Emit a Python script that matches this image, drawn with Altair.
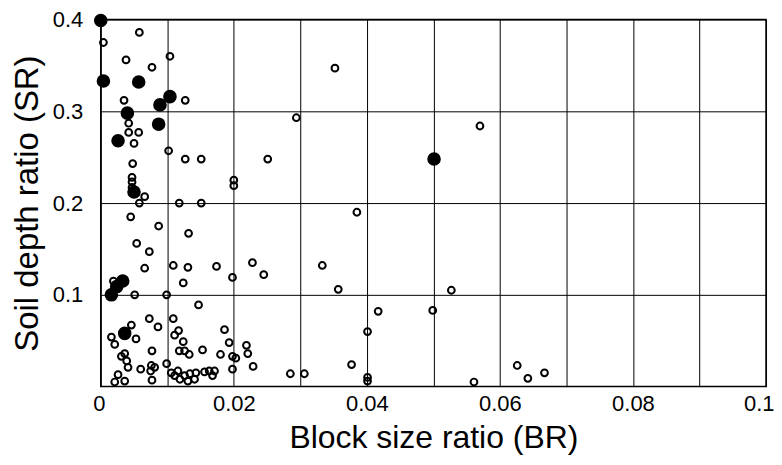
import altair as alt
import pandas as pd

# Open circles (Block size ratio BR, Soil depth ratio SR)
open_br = [0.0058, 0.0004, 0.0038, 0.0077, 0.0104, 0.0035, 0.0127, 0.0042, 0.0042, 0.0057,
           0.0050, 0.0102, 0.0127, 0.0151, 0.0251, 0.0048, 0.0047, 0.0047, 0.0047, 0.0066,
           0.0200, 0.0200, 0.0352, 0.0294, 0.0570,
           0.0058, 0.0118, 0.0151, 0.0045, 0.0087, 0.0132, 0.0054, 0.0073, 0.0066, 0.0109,
           0.0131, 0.0174, 0.0228, 0.0245, 0.0198, 0.0124, 0.0019, 0.0051, 0.0099, 0.0147,
           0.0385, 0.0333, 0.0357, 0.0527, 0.0417, 0.0499, 0.0401,
           0.0073, 0.0109, 0.0046, 0.0086, 0.0117, 0.0111, 0.0016, 0.0053, 0.0124, 0.0021,
           0.0186, 0.0193, 0.0219, 0.0221, 0.0153, 0.0118, 0.0126, 0.0133, 0.0077, 0.0036,
           0.0031, 0.0039, 0.0041, 0.0180, 0.0198, 0.0203, 0.0229, 0.0198, 0.0060, 0.0076,
           0.0081, 0.0075, 0.0077, 0.0099, 0.0106, 0.0116, 0.0111, 0.0119, 0.0126, 0.0131,
           0.0134, 0.0141, 0.0143, 0.0156, 0.0163, 0.0171, 0.0168, 0.0026, 0.0021, 0.0036,
           0.0285, 0.0306, 0.0377, 0.0401, 0.0401, 0.0561, 0.0626, 0.0642, 0.0667]
open_sr = [0.386, 0.375, 0.356, 0.348, 0.360, 0.312, 0.312, 0.287, 0.277, 0.277,
           0.265, 0.257, 0.248, 0.248, 0.248, 0.243, 0.228, 0.223, 0.217, 0.207,
           0.225, 0.219, 0.347, 0.293, 0.284,
           0.200, 0.200, 0.200, 0.185, 0.175, 0.167, 0.156, 0.147, 0.129, 0.132,
           0.130, 0.131, 0.135, 0.122, 0.119, 0.113, 0.115, 0.100, 0.100, 0.089,
           0.190, 0.132, 0.106, 0.105, 0.082, 0.083, 0.060,
           0.074, 0.074, 0.067, 0.065, 0.061, 0.056, 0.054, 0.052, 0.049, 0.046,
           0.062, 0.048, 0.045, 0.036, 0.040, 0.039, 0.039, 0.035, 0.039, 0.036,
           0.033, 0.028, 0.021, 0.035, 0.033, 0.031, 0.022, 0.019, 0.019, 0.023,
           0.021, 0.017, 0.007, 0.025, 0.015, 0.017, 0.012, 0.008, 0.012, 0.006,
           0.014, 0.008, 0.015, 0.016, 0.017, 0.017, 0.012, 0.013, 0.005, 0.006,
           0.014, 0.014, 0.024, 0.010, 0.006, 0.005, 0.023, 0.009, 0.015]

# Filled circles
filled_br = [0.0000, 0.0004, 0.0057, 0.0104, 0.0089, 0.0040, 0.0087, 0.0026, 0.0050,
             0.0033, 0.0024, 0.0016, 0.0036, 0.0501]
filled_sr = [0.399, 0.333, 0.332, 0.316, 0.307, 0.298, 0.286, 0.268, 0.212,
             0.115, 0.109, 0.100, 0.058, 0.248]

x_grid = [0.0, 0.01, 0.02, 0.03, 0.04, 0.05, 0.06, 0.07, 0.08, 0.09, 0.1]
x_labels = ["0", "0.02", "0.04", "0.06", "0.08", "0.1"]
y_grid = [0.1, 0.2, 0.3, 0.4]

df_open = pd.DataFrame({"BR": open_br, "SR": open_sr})
df_filled = pd.DataFrame({"BR": filled_br, "SR": filled_sr})

label_list = "[" + ",".join("'" + s + "'" for s in x_labels) + "]"

x_enc = alt.X("BR:Q", scale=alt.Scale(domain=[0, 0.1], nice=False, zero=True),
              axis=alt.Axis(title="Block size ratio (BR)", values=x_grid, format="~g",
                            labelExpr=f"indexof({label_list}, datum.label) >= 0 ? datum.label : ''",
                            labelFlush=True, labelFlushOffset=8,
                            labelOverlap=False, ticks=False,
                            labelPadding=7, titlePadding=8,
                            labelFontSize=22, titleFontSize=32))
y_enc = alt.Y("SR:Q", scale=alt.Scale(domain=[0, 0.4], nice=False, zero=True),
              axis=alt.Axis(title="Soil depth ratio (SR)", values=y_grid, format="~g",
                            labelFlush=False, labelOverlap=False, ticks=False,
                            labelPadding=18, titlePadding=8,
                            labelFontSize=22, titleFontSize=33))

open_layer = alt.Chart(df_open).mark_point(shape="circle", filled=False, size=46,
                                            strokeWidth=2, color="black", opacity=1).encode(x=x_enc, y=y_enc)
filled_layer = alt.Chart(df_filled).mark_circle(size=185, color="black", opacity=1).encode(x=x_enc, y=y_enc)

chart = alt.layer(open_layer, filled_layer).properties(
    width=667, height=368,
    autosize=alt.AutoSizeParams(type="none"),
    padding={"left": 93, "top": 11, "right": 8, "bottom": 70},
).configure_view(stroke="black", strokeWidth=1.5).configure_axis(
    grid=True, gridColor="black", gridOpacity=1, gridWidth=1,
    domain=False, labelColor="black", titleColor="black",
    labelFont="Liberation Sans", titleFont="Liberation Sans",
    titleFontWeight="normal",
)

chart.save("out.html", embed_options={"renderer": "svg", "actions": False})
